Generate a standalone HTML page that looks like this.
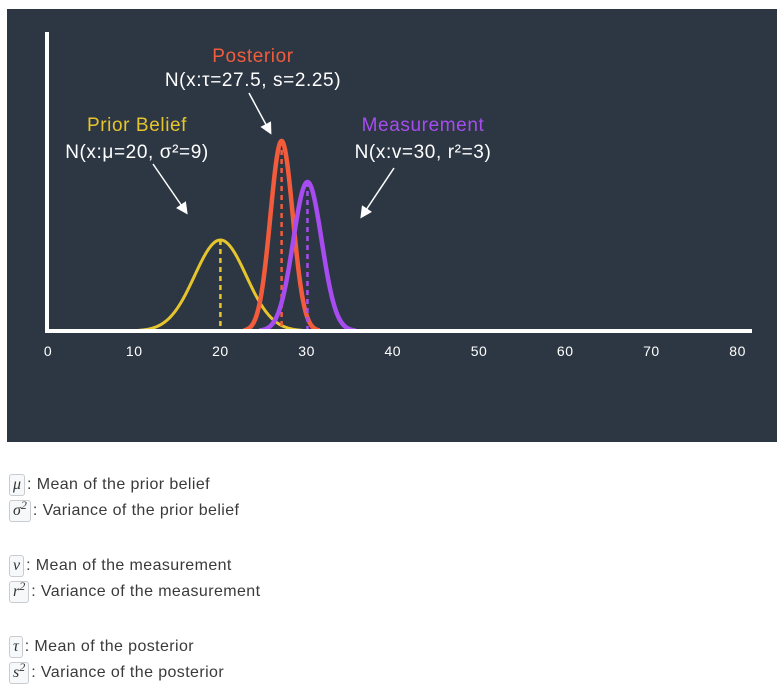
<!DOCTYPE html>
<html><head><meta charset="utf-8"><style>
body{margin:0;width:784px;height:697px;background:#fff;font-family:"Liberation Sans","DejaVu Sans",sans-serif;position:relative;overflow:hidden}
#chart{position:absolute;left:7px;top:9px}
.leg{position:absolute;left:9px;font-size:16px;letter-spacing:0.4px;color:#3a3a3a;display:flex;align-items:center;height:24px}
.box{display:inline-block;border:1px solid #c8ccd0;border-radius:3px;background:#f7f8fa;font-family:"Liberation Serif",serif;font-style:italic;font-size:16px;padding:0 3px;height:20px;line-height:20px;margin-right:2px;color:#333;letter-spacing:0}
sup{font-size:12px;vertical-align:6px;line-height:0}
</style></head><body>
<svg id="chart" width="770" height="433" viewBox="7 9 770 433">
<rect x="7" y="9" width="770" height="433" fill="#2d3743"/>
<g id="curves"></g>
<line x1="47" y1="32" x2="47" y2="332" stroke="#fff" stroke-width="4"/>
<line x1="45" y1="331" x2="752" y2="331" stroke="#fff" stroke-width="4"/>
<g id="ticks" font-size="14" fill="#fff" text-anchor="middle" letter-spacing="0.5"></g>
<g font-size="19" text-anchor="middle" letter-spacing="0.6">
<text x="253" y="62" fill="#f25c3c">Posterior</text>
<text x="253" y="86" fill="#fff">N(x:τ=27.5, s=2.25)</text>
<text x="137" y="131" fill="#e6c52c">Prior Belief</text>
<text x="137" y="158" fill="#fff">N(x:μ=20, σ²=9)</text>
<text x="423" y="131" fill="#a64cf0">Measurement</text>
<text x="423" y="158" fill="#fff">N(x:v=30, r²=3)</text>
</g>
<defs><marker id="ah" markerWidth="8" markerHeight="8" refX="6" refY="4" orient="auto"><path d="M0,0 L8,4 L0,8 z" fill="#fff"/></marker></defs>
<g stroke="#fff" stroke-width="1.5" marker-end="url(#ah)">
<line x1="249" y1="93" x2="270" y2="132"/>
<line x1="153" y1="164" x2="186" y2="212"/>
<line x1="394" y1="168" x2="362" y2="216"/>
</g>
</svg>
<div class="leg" style="top:473px"><span class="box">μ</span>: Mean of the prior belief</div>
<div class="leg" style="top:499px"><span class="box">σ<sup>2</sup></span>: Variance of the prior belief</div>
<div class="leg" style="top:554px"><span class="box">v</span>: Mean of the measurement</div>
<div class="leg" style="top:580px"><span class="box">r<sup>2</sup></span>: Variance of the measurement</div>
<div class="leg" style="top:635px"><span class="box">τ</span>: Mean of the posterior</div>
<div class="leg" style="top:661px"><span class="box">s<sup>2</sup></span>: Variance of the posterior</div>
<script>
const tickValues=[0,10,20,30,40,50,60,70,80];
const seriesNames=['prior','posterior','measurement'];
const seriesMeans=[20,27.1,30.1];
const seriesSigmas=[3,1.3,1.65];
const seriesPeaks=[91,190,149];
const seriesColors=['#e6c52c','#f25c3c','#a64cf0'];
const seriesWidths=[3,4.5,4.5];
const NS='http://www.w3.org/2000/svg';
const xs=v=>48+v*8.62;
const ys=h=>331-h;
const tg=document.getElementById('ticks');
tickValues.forEach(v=>{const t=document.createElementNS(NS,'text');
t.setAttribute('x',xs(v));t.setAttribute('y',356);t.textContent=v;


tg.appendChild(t);});
const cg=document.getElementById('curves');
seriesNames.forEach((n,i)=>{
 const m=seriesMeans[i],s=seriesSigmas[i],p=seriesPeaks[i];
 let d='';
 for(let k=-3.4;k<=3.4001;k+=0.05){const v=m+k*s;const h=p*Math.exp(-k*k/2);d+=(d?'L':'M')+xs(v).toFixed(2)+','+ys(h).toFixed(2);}
 const path=document.createElementNS(NS,'path');
 path.setAttribute('d',d);path.setAttribute('fill','none');path.setAttribute('stroke',seriesColors[i]);path.setAttribute('stroke-width',seriesWidths[i]);
 
 
 cg.appendChild(path);
 const l=document.createElementNS(NS,'line');
 l.setAttribute('x1',xs(m));l.setAttribute('x2',xs(m));l.setAttribute('y1',ys(p));l.setAttribute('y2',331);
 l.setAttribute('stroke',seriesColors[i]);l.setAttribute('stroke-width',2.5);l.setAttribute('stroke-dasharray','5,4');
 
 
 cg.appendChild(l);
});
</script>
</body></html>
